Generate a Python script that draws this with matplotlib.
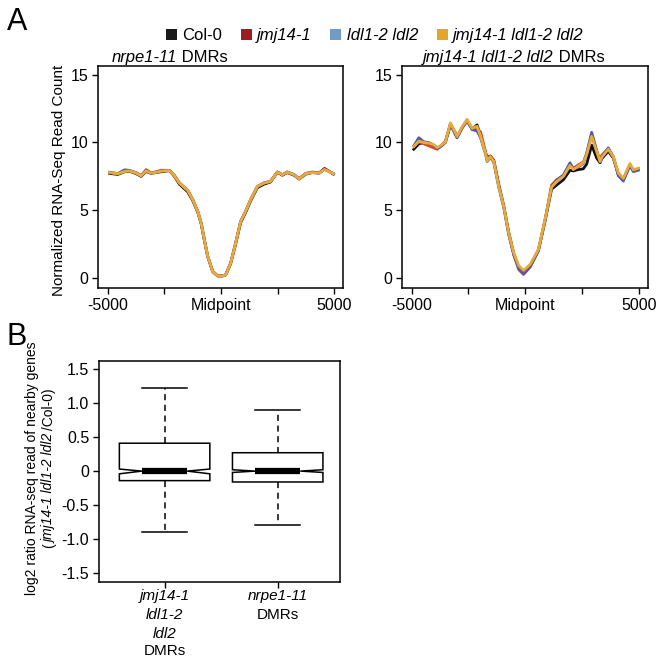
import matplotlib
matplotlib.use("Agg")
import matplotlib.pyplot as plt
import matplotlib.transforms as mtransforms
from matplotlib.patches import Patch

plt.rcParams['font.family'] = ['Liberation Sans', 'DejaVu Sans']
plt.rcParams['font.size'] = 11

# series names / colours
names = ["Col-0", "jmj14-1", "ldl1-2 ldl2", "jmj14-1 ldl1-2 ldl2"]
legend_colors = ["#1a1a1a", "#9c1c1f", "#6f9bc6", "#e2a729"]
line_colors = ["#111111", "#dc4a2c", "#4e5cab", "#e9ab38"]

# panel A left: nrpe1-11 DMRs
x_left = [-4910, -4550, -4250, -4030, -3740, -3520, -3300, -3080, -2860, -2640,
          -2270, -2050, -1830, -1460, -1240, -1020, -870, -730, -580, -360,
          -140, 80, 210, 430, 650, 870, 1090, 1310, 1610, 1900,
          2190, 2490, 2710, 2930, 3230, 3450, 3740, 4030, 4330, 4570, 4770, 4960]
left_col0 = [7.72, 7.64, 7.84, 7.88, 7.70, 7.50, 7.86, 7.72, 7.78, 7.84,
             7.92, 7.50, 6.92, 6.35, 5.70, 4.85, 4.00, 2.78, 1.56, 0.46,
             0.14, 0.15, 0.22, 1.05, 2.50, 4.08, 4.82, 5.68, 6.66, 6.92,
             7.08, 7.80, 7.58, 7.78, 7.58, 7.30, 7.66, 7.78, 7.74, 8.08, 7.88, 7.66]
left_jmj = [7.78, 7.70, 7.86, 7.92, 7.76, 7.54, 8.00, 7.76, 7.84, 7.95,
            7.94, 7.56, 7.02, 6.46, 5.78, 4.92, 4.05, 2.82, 1.58, 0.47,
            0.15, 0.15, 0.23, 1.09, 2.58, 4.18, 4.92, 5.78, 6.76, 7.02,
            7.14, 7.82, 7.62, 7.82, 7.62, 7.34, 7.72, 7.82, 7.76, 8.02, 7.88, 7.70]
left_ldl = [7.80, 7.70, 7.98, 7.94, 7.76, 7.56, 7.92, 7.76, 7.80, 7.90,
            7.94, 7.56, 7.00, 6.44, 5.76, 4.90, 4.04, 2.81, 1.58, 0.47,
            0.15, 0.15, 0.22, 1.08, 2.56, 4.16, 4.90, 5.76, 6.74, 7.00,
            7.12, 7.82, 7.62, 7.82, 7.62, 7.32, 7.70, 7.80, 7.74, 8.02, 7.86, 7.70]
left_triple = [7.78, 7.69, 7.86, 7.90, 7.74, 7.54, 7.90, 7.74, 7.80, 7.88,
               7.93, 7.54, 7.00, 6.45, 5.76, 4.90, 4.04, 2.81, 1.58, 0.47,
               0.15, 0.15, 0.22, 1.08, 2.56, 4.16, 4.90, 5.76, 6.75, 7.00,
               7.12, 7.81, 7.61, 7.81, 7.61, 7.32, 7.69, 7.78, 7.74, 8.00, 7.86, 7.69]

# panel A right: jmj14-1 ldl1-2 ldl2 DMRs
x_right = [-4900, -4680, -4460, -4240, -4020, -3870, -3650, -3510, -3290, -3070,
           -3000, -2780, -2560, -2340, -2120, -1970, -1750, -1680, -1540, -1390,
           -1170, -950, -730, -510, -290, -80, 210, 570, 860, 1150,
           1370, 1670, 1960, 2100, 2330, 2540, 2690, 2910, 3130, 3280,
           3350, 3640, 3860, 4080, 4300, 4590, 4740, 4960]
right_col0 = [9.50, 9.90, 10.00, 9.85, 9.70, 9.55, 9.80, 10.05, 11.30, 10.70,
              10.40, 11.10, 11.60, 11.00, 11.30, 10.50, 9.25, 8.90, 9.00, 8.70,
              6.90, 5.30, 3.35, 1.80, 0.75, 0.35, 0.85, 2.05, 4.20, 6.55,
              6.85, 7.25, 7.95, 7.90, 8.00, 8.05, 8.40, 9.80, 8.85, 8.50,
              8.80, 9.35, 8.85, 7.70, 7.30, 8.35, 7.95, 8.05]
right_jmj = [9.70, 10.05, 9.90, 9.75, 9.60, 9.50, 9.85, 10.10, 11.40, 10.65,
             10.40, 11.10, 11.65, 11.00, 10.95, 10.80, 9.30, 8.70, 9.00, 8.65,
             6.80, 5.30, 3.25, 1.70, 0.60, 0.25, 0.80, 2.00, 4.25, 6.85,
             7.25, 7.55, 8.40, 8.10, 8.35, 8.55, 9.15, 10.60, 9.35, 8.65,
             9.05, 9.55, 8.90, 7.60, 7.25, 8.35, 7.90, 8.05]
right_ldl = [9.75, 10.35, 10.05, 10.00, 9.80, 9.55, 9.80, 10.00, 11.35, 10.55,
             10.35, 11.05, 11.65, 10.95, 10.85, 10.35, 9.15, 8.60, 8.90, 8.55,
             6.70, 5.20, 3.20, 1.70, 0.70, 0.30, 0.85, 2.00, 4.20, 6.75,
             7.20, 7.60, 8.50, 8.05, 8.20, 8.45, 9.20, 10.75, 9.40, 8.55,
             8.95, 9.60, 8.95, 7.55, 7.15, 8.30, 7.85, 7.95]
right_triple = [9.70, 10.10, 10.00, 9.95, 9.83, 9.62, 9.85, 10.05, 11.45, 10.70,
                10.45, 11.15, 11.70, 11.05, 11.20, 10.45, 9.20, 8.65, 8.95, 8.60,
                6.75, 5.25, 3.30, 1.85, 0.90, 0.55, 1.00, 2.10, 4.30, 6.70,
                7.10, 7.50, 8.30, 8.00, 8.25, 8.50, 9.10, 10.45, 9.35, 8.60,
                8.90, 9.50, 8.95, 7.75, 7.35, 8.45, 7.98, 8.10]

# panel B boxplot stats
box_pos = [1, 2]
box_med = [0.0, 0.0]
box_q1 = [-0.14, -0.16]
box_q3 = [0.41, 0.27]
box_lo = [-0.90, -0.79]
box_hi = [1.22, 0.90]
box_cilo = [-0.04, -0.02]
box_cihi = [0.03, 0.02]

fig = plt.figure(figsize=(6.6, 6.6), dpi=100)
renderer = fig.canvas.get_renderer()


def rich(x, y, pieces, size=10, rotation=0):
    # draws text pieces of mixed style one after another, centred on (x, y)
    texts = []
    for s, style in pieces:
        t = fig.text(0, 0, s, fontsize=size, fontstyle=style, rotation=rotation,
                     rotation_mode='anchor', ha='left', va='baseline')
        texts.append(t)
    bbs = [t.get_window_extent(renderer) for t in texts]
    if rotation == 0:
        lens = [b.width / fig.bbox.width for b in bbs]
        pos = x - sum(lens) / 2
        for t, l in zip(texts, lens):
            t.set_position((pos, y))
            pos += l
    else:
        lens = [b.height / fig.bbox.height for b in bbs]
        pos = y - sum(lens) / 2
        for t, l in zip(texts, lens):
            t.set_position((x, pos))
            pos += l


def style_axes(ax):
    for sp in ax.spines.values():
        sp.set_linewidth(1.1)
    ax.tick_params(direction='out', length=4, width=1.0, labelsize=11.5, pad=3)


# --- panel A ---
axL = fig.add_axes([0.1485, 0.5636, 0.371, 0.3364])
axR = fig.add_axes([0.609, 0.5636, 0.3727, 0.3364])

left_series = [left_col0, left_jmj, left_ldl, left_triple]
right_series = [right_col0, right_jmj, right_ldl, right_triple]
for ax, xs, series in [(axL, x_left, left_series), (axR, x_right, right_series)]:
    for ys, c in zip(series, line_colors):
        ax.plot(xs, ys, color=c, lw=2.0, solid_joinstyle='round')
    ax.set_xlim(-5420, 5380)
    ax.set_ylim(-0.75, 15.65)
    ax.set_yticks([0, 5, 10, 15])
    ax.set_xticks([-5000, -2500, 0, 2500, 5000])
    ax.set_xticklabels(["-5000", "", "Midpoint", "", "5000"])
    style_axes(ax)

fig.text(0.090, 0.727, "Normalized RNA-Seq Read Count", rotation=90,
         ha='center', va='center', fontsize=11)

# titles, left aligned
for x0, pieces in [(0.170, [("nrpe1-11", 'italic'), (" DMRs", 'normal')]),
                   (0.641, [("jmj14-1 ldl1-2 ldl2", 'italic'), (" DMRs", 'normal')])]:
    for s, style in pieces:
        t = fig.text(x0, 0.906, s, fontsize=12, fontstyle=style, ha='left', va='baseline')
        x0 += t.get_window_extent(renderer).width / fig.bbox.width

handles = [Patch(facecolor=c, edgecolor='none') for c in legend_colors]
leg = fig.legend(handles, names, loc='center', bbox_to_anchor=(0.568, 0.946), ncol=4,
                 frameon=False, fontsize=12, handlelength=0.65, handleheight=0.65,
                 handletextpad=0.35, columnspacing=1.1)
for t in leg.get_texts()[1:]:
    t.set_fontstyle('italic')

fig.text(0.010, 0.967, "A", fontsize=22, ha='left', va='center')
fig.text(0.010, 0.489, "B", fontsize=22, ha='left', va='center')

# --- panel B ---
axB = fig.add_axes([0.15, 0.1182, 0.365, 0.335])
stats = []
for i in range(len(box_pos)):
    stats.append(dict(med=box_med[i], q1=box_q1[i], q3=box_q3[i], whislo=box_lo[i],
                      whishi=box_hi[i], cilo=box_cilo[i], cihi=box_cihi[i], fliers=[]))
axB.bxp(stats, positions=box_pos, widths=0.8, capwidths=0.4, shownotches=True,
        showfliers=False, patch_artist=True,
        boxprops=dict(facecolor='white', edgecolor='black', linewidth=1.1),
        whiskerprops=dict(color='black', linewidth=1.1, linestyle=(0, (4, 3))),
        capprops=dict(color='black', linewidth=1.1),
        medianprops=dict(color='black', linewidth=4.5, solid_capstyle='butt'))
axB.set_xlim(0.42, 2.55)
axB.set_ylim(-1.63, 1.62)
axB.set_yticks([-1.5, -1.0, -0.5, 0, 0.5, 1.0, 1.5])
axB.set_yticklabels(["-1.5", "-1.0", "-0.5", "0", "0.5", "1.0", "1.5"])
axB.set_xticks(box_pos)
axB.set_xticklabels(["", ""])
style_axes(axB)

trans = mtransforms.blended_transform_factory(axB.transData, fig.transFigure)
label_lines = [[("jmj14-1", 'italic'), ("ldl1-2", 'italic'), ("ldl2", 'italic'), ("DMRs", 'normal')],
               [("nrpe1-11", 'italic'), ("DMRs", 'normal')]]
line_y = [0.0970, 0.068, 0.040, 0.013]
for p, lines in zip(box_pos, label_lines):
    for (s, style), yy in zip(lines, line_y):
        axB.text(p, yy, s, transform=trans, ha='center', va='center',
                 fontsize=11, fontstyle=style)

rich(0.054, 0.291, [("log2 ratio RNA-seq read of nearby genes", 'normal')], size=10, rotation=90)
rich(0.081, 0.291, [("(", 'normal'), ("jmj14-1 ldl1-2 ldl2", 'italic'), (" /Col-0)", 'normal')],
     size=10, rotation=90)

fig.savefig("out.png", dpi=100)
